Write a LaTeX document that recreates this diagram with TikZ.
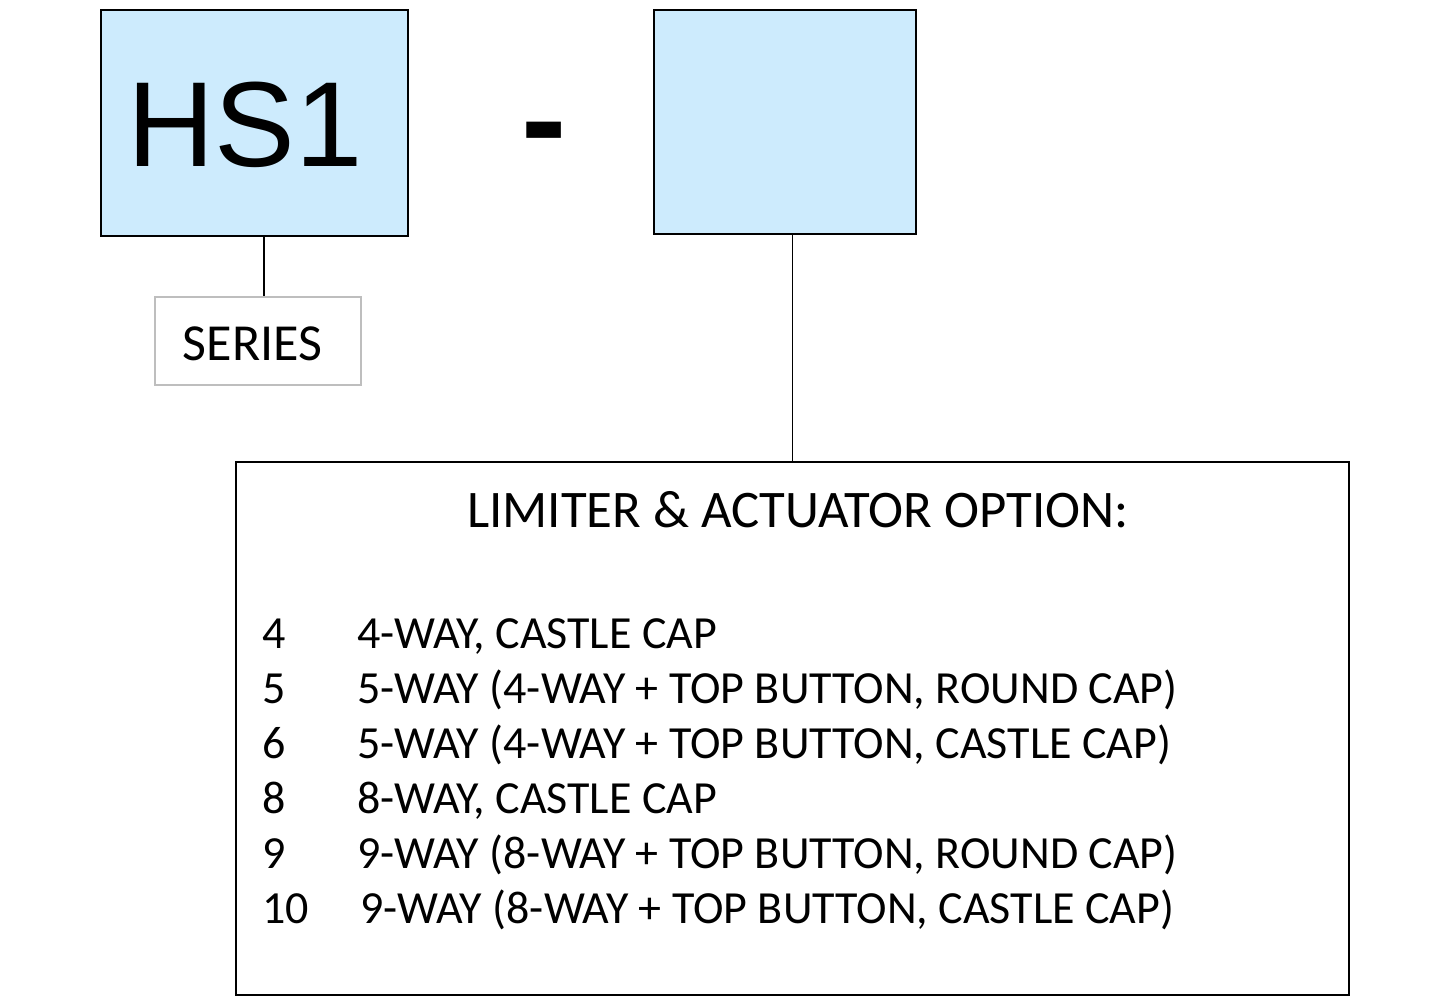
\documentclass[tikz,border=0pt]{standalone}
\usepackage{fontspec}
\setmainfont{Carlito}
\newfontfamily\arialf{Liberation Sans}
\definecolor{boxblue}{RGB}{205,235,253}
\definecolor{seriesgray}{RGB}{190,190,190}
\begin{document}
\begin{tikzpicture}[x=0.5pt,y=-0.5pt,
  bluebox/.style={draw=black, line width=1.1pt, fill=boxblue, inner sep=0pt, rectangle},
  graybox/.style={draw=seriesgray, line width=1pt, inner sep=0pt, rectangle},
  bigbox/.style={draw=black, line width=1.1pt, inner sep=0pt, rectangle},
  conn/.style={draw=black, line width=0.8pt},
  txt/.style={inner sep=0pt, font=\fontsize{23}{28}\selectfont},
  seriestxt/.style={inner sep=0pt, font=\fontsize{26}{30}\selectfont},
  titletxt/.style={inner sep=0pt, font=\fontsize{26.4}{32}\selectfont}]
\useasboundingbox (0,0) rectangle (1439,1000);
% boxes
\node[bluebox, minimum width=153.5pt, minimum height=113pt] (hs1) at (254.5,123) {};
\node[bluebox, minimum width=131pt, minimum height=112pt] (opt) at (785,122) {};
\node[graybox, minimum width=103pt, minimum height=44pt] (series) at (257.5,341) {};
\node[bigbox, minimum width=556.5pt, minimum height=266.5pt] (limbox) at (792.5,728.5) {};
% texts
\node[inner sep=0pt, anchor=base west, font=\arialf\fontsize{60.5}{70}\selectfont] (hs1text) at (127,167) {HS1};
\node[inner sep=0pt, anchor=base, font=\arialf\bfseries\fontsize{68}{80}\selectfont] (dash) at (544.5,166) {-};
\node[seriestxt, anchor=base] (seriestext) at (252.5,360) {SERIES};
\node[titletxt, anchor=base] (title) at (798,527) {LIMITER \& ACTUATOR OPTION:};
% list
\node[txt, anchor=base west] (n1) at (262,648) {4};
\node[txt, anchor=base west] (t1) at (357,648) {4-WAY, CASTLE CAP};
\node[txt, anchor=base west] (n2) at (262,703) {5};
\node[txt, anchor=base west] (t2) at (357,703) {5-WAY (4-WAY + TOP BUTTON, ROUND CAP)};
\node[txt, anchor=base west] (n3) at (262,758) {6};
\node[txt, anchor=base west] (t3) at (357,758) {5-WAY (4-WAY + TOP BUTTON, CASTLE CAP)};
\node[txt, anchor=base west] (n4) at (262,813) {8};
\node[txt, anchor=base west] (t4) at (357,813) {8-WAY, CASTLE CAP};
\node[txt, anchor=base west] (n5) at (262,868) {9};
\node[txt, anchor=base west] (t5) at (357,868) {9-WAY (8-WAY + TOP BUTTON, ROUND CAP)};
\node[txt, anchor=base west] (n6) at (262,923) {10};
\node[txt, anchor=base west] (t6) at (360,923) {9-WAY (8-WAY + TOP BUTTON, CASTLE CAP)};
% connectors
\coordinate (c1) at (264,0);
\draw[conn] (hs1.south -| c1) -- (series.north -| c1);
\draw[conn] (opt.south -| limbox.north) -- (limbox.north);
\end{tikzpicture}
\end{document}
